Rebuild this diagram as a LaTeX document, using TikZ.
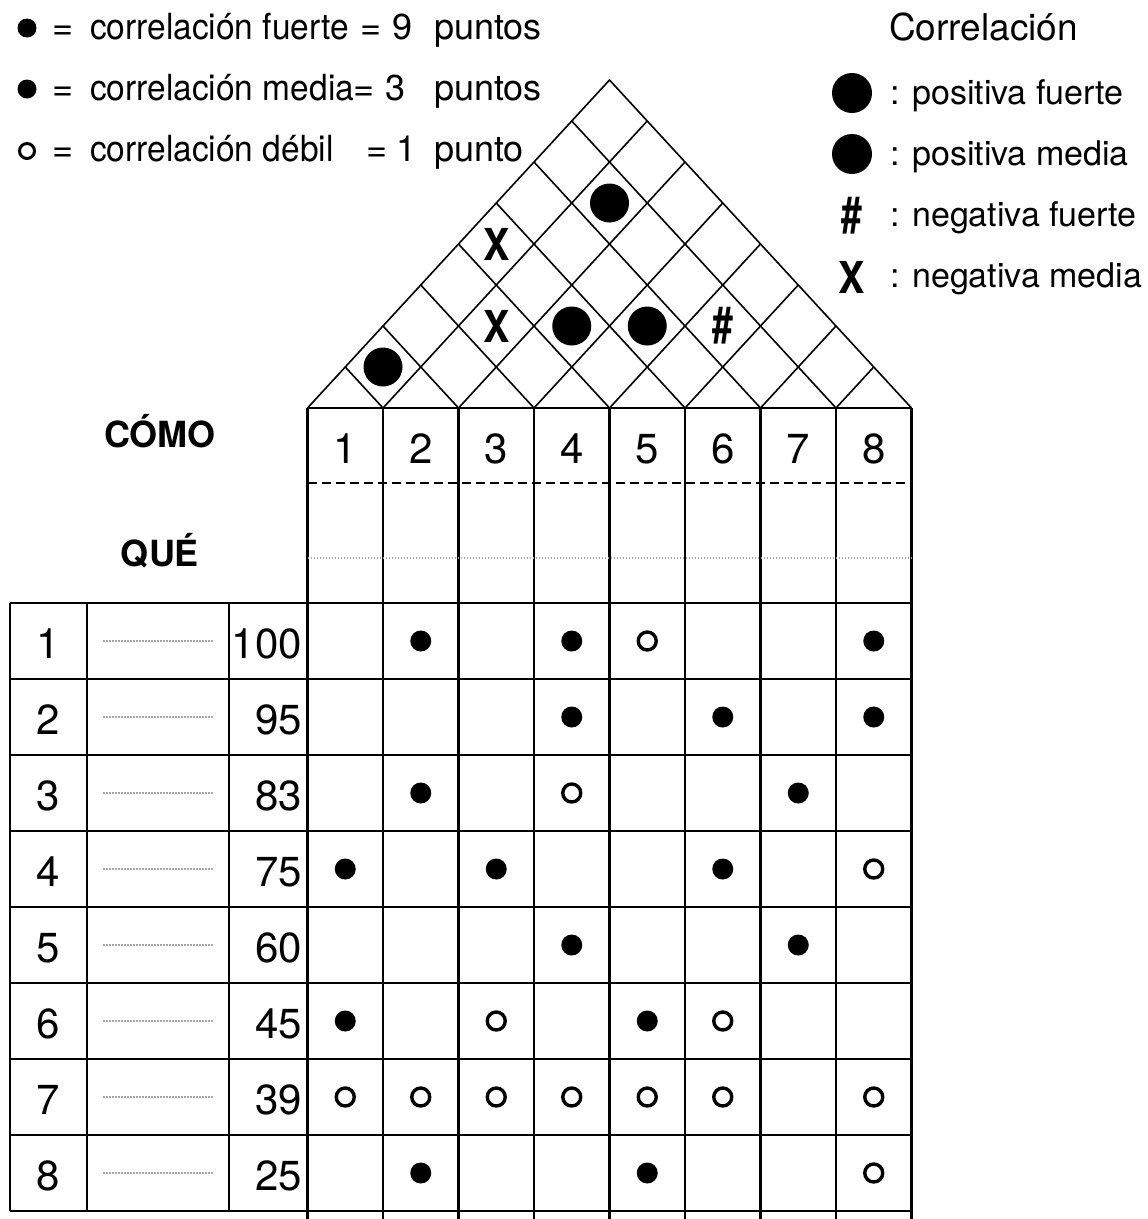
\documentclass[tikz,border=0pt]{standalone}
\usepackage{fontspec}
\setmainfont{TeX Gyre Heros}
\newfontfamily\narrowheros[FakeStretch=0.93]{TeX Gyre Heros}
\begin{document}
\begin{tikzpicture}[x=1pt,y=-1pt,
  gridline/.style={line width=2.6pt},
  roofline/.style={line width=1.6pt},
  fulldot/.style={circle,fill=black,inner sep=0pt,minimum size=21pt},
  opendot/.style={circle,draw=black,line width=3.4pt,inner sep=0pt,minimum size=18pt},
  bigdot/.style={circle,fill=black,inner sep=0pt,minimum size=39pt},
  legtext/.style={inner sep=0pt,anchor=base west,font=\fontsize{36}{40}\selectfont},
  narrowtext/.style={inner sep=0pt,anchor=base west,font=\fontsize{36}{40}\narrowheros},
  legmid/.style={inner sep=0pt,anchor=base,font=\fontsize{36}{40}\selectfont},
  rtext/.style={inner sep=0pt,anchor=base west,font=\fontsize{34}{40}\selectfont},
  numtext/.style={inner sep=0pt,anchor=base,font=\fontsize{42}{46}\selectfont},
  valtext/.style={inner sep=0pt,anchor=base east,font=\fontsize{42}{46}\selectfont},
  headtext/.style={inner sep=0pt,anchor=base,font=\fontsize{36}{40}\selectfont\bfseries},
  symtext/.style={inner sep=0pt,font=\fontsize{44}{48}\selectfont\bfseries},
  dotline/.style={gray!70,line width=1.4pt,dash pattern=on 1.5pt off 1.5pt}
]
\useasboundingbox (0,0) rectangle (1148,1219);
\def\xo{307.5}
\def\w{75.5}
\def\hs{41}
\newcommand\markX{\scalebox{0.9}[1]{X}}
\newcommand\markH{\scalebox{0.85}[1.15]{\#}}

% ---------- roof ----------
\coordinate (bl) at (\xo,408);
\coordinate (br) at ({\xo+8*\w},408);
\coordinate (apex) at ({\xo+4*\w},{408-8*\hs});
\draw[roofline] (bl) -- (apex) -- (br);
\foreach \i in {1,...,7}{
  \coordinate (ur\i) at ({\xo+\i*\w},408);
  \coordinate (ure\i) at ({\xo+\i*\w+(8-\i)*\w/2},{408-(8-\i)*\hs});
  \coordinate (ule\i) at ({\xo+\i*\w/2},{408-\i*\hs});
  \draw[roofline] (ur\i) -- (ure\i);
  \draw[roofline] (ur\i) -- (ule\i);
}
% roof markers (pair p,q)
\foreach \p/\q [count=\n] in {1/2,3/5,4/6,2/7}{
  \node[bigdot] (rd\n) at ({\xo+(\p+\q-1)*\w/2},{408-\hs*(\q-\p)}) {};
}
\foreach \p/\q [count=\n] in {2/4,1/5}{
  \node[symtext] (rx\n) at ({\xo+(\p+\q-1)*\w/2},{408-\hs*(\q-\p)}) {\markX};
}
\node[symtext] (rh1) at ({\xo+(5+7-1)*\w/2},{408-\hs*2}) {\markH};

% ---------- matrix ----------
\foreach \k in {0,...,8}{
  \draw[gridline] ({\xo+\k*\w},408) -- ({\xo+\k*\w},1219);
}
\draw[gridline] (bl) -- (br);
\draw[line width=2.6pt,dash pattern=on 9pt off 5pt] (\xo,483) -- ({\xo+8*\w},483);
\draw[dotline] (\xo,558) -- ({\xo+8*\w},558);
\foreach \r in {0,...,8}{
  \draw[gridline] (10,{603+\r*76}) -- ({\xo+8*\w},{603+\r*76});
}
\foreach \x in {10,87,229}{
  \draw[gridline] (\x,603) -- (\x,1211);
}
\foreach \k in {1,...,8}{
  \node[numtext] (col\k) at ({\xo+(\k-0.5)*\w},463) {\k};
}
\node[headtext] (como) at (160,447) {CÓMO};
\node[headtext] (que) at (160,566) {QUÉ};

\foreach \r/\v in {1/100,2/95,3/83,4/75,5/60,6/45,7/39,8/25}{
  \node[numtext] (row\r) at (48,{565+76*\r+17}) {\r};
  \node[valtext] (val\r) at (302,{565+76*\r+17}) {\v};
  \draw[dotline] (103,{565+76*\r}) -- (213,{565+76*\r});
}
\foreach \r/\c [count=\n] in {1/2,1/4,1/8,2/4,2/6,2/8,3/2,3/7,4/1,4/3,4/6,5/4,5/7,6/1,6/5,8/2,8/5}{
  \node[fulldot] (f\n) at ({\xo+(\c-0.5)*\w},{565+76*\r}) {};
}
\foreach \r/\c [count=\n] in {1/5,3/4,4/8,6/3,6/6,7/1,7/2,7/3,7/4,7/5,7/6,7/8,8/8}{
  \node[opendot] (o\n) at ({\xo+(\c-0.5)*\w},{565+76*\r}) {};
}

% ---------- legend left ----------
\node[fulldot,minimum size=19pt] (lg1) at (27,28) {};
\node[fulldot,minimum size=19pt] (lg2) at (27,89) {};
\node[opendot,minimum size=15pt,line width=3pt] (lg3) at (27,151) {};
\node[legmid] (le1) at (63,39) {=};
\node[legmid] (le2) at (63,100) {=};
\node[legmid] (le3) at (63,161) {=};
\node[narrowtext] (lt1) at (90,39) {correlación fuerte};
\node[narrowtext] (lt2) at (90,100) {correlación media};
\node[narrowtext] (lt3) at (90,161) {correlación débil};
\node[legmid] (lq1) at (371,39) {=};
\node[legmid] (lq2) at (364,100) {=};
\node[legmid] (lq3) at (377,161) {=};
\node[legmid] (ln1) at (403,39) {9};
\node[legmid] (ln2) at (396,100) {3};
\node[legmid] (ln3) at (407,161) {1};
\node[legtext] (lp1) at (434,39) {puntos};
\node[legtext] (lp2) at (434,100) {puntos};
\node[legtext] (lp3) at (434,161) {punto};

% ---------- legend right ----------
\node[inner sep=0pt,anchor=base west,font=\fontsize{37}{40}\selectfont] (corr) at (889,40) {Correlación};
\node[bigdot,minimum size=40pt] (rl1) at (852,93) {};
\node[bigdot,minimum size=40pt] (rl2) at (852,154) {};
\node[symtext] (rl3) at (852,216) {\markH};
\node[symtext] (rl4) at (852,277) {\markX};
\node[rtext] (rt1) at (890,104) {: positiva fuerte};
\node[rtext] (rt2) at (890,165) {: positiva media};
\node[rtext] (rt3) at (890,226) {: negativa fuerte};
\node[rtext] (rt4) at (890,287) {: negativa media};
\end{tikzpicture}
\end{document}
